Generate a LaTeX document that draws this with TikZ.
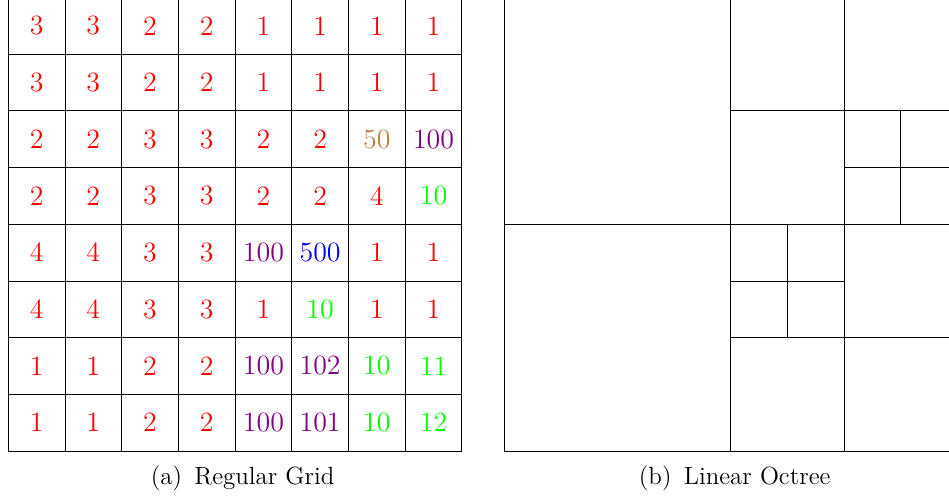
\documentclass[tikz,border=0pt]{standalone}
\usepackage{amsmath}
\usepackage{xcolor}
\usepackage{tikz}

\tikzset{
  num/.style={font=\fontsize{14}{17}\selectfont},
  caption/.style={font=\fontsize{12.5}{15}\selectfont, anchor=base}
}

\begin{document}
\begin{tikzpicture}[scale=1]
\useasboundingbox (-0.146,-0.829) rectangle (16.591,7.954);
% regular grid, 8x8 cells
\draw [thin] (0,0) grid (8,8);
% values, one row at a time (top row first)
\foreach \v/\c [count=\i from 0] in {3/red,3/red,2/red,2/red,1/red,1/red,1/red,1/red}
  \node[num,text=\c] (r0c\i) at (\i+0.5,7.5) {\v};
\foreach \v/\c [count=\i from 0] in {3/red,3/red,2/red,2/red,1/red,1/red,1/red,1/red}
  \node[num,text=\c] (r1c\i) at (\i+0.5,6.5) {\v};
\foreach \v/\c [count=\i from 0] in {2/red,2/red,3/red,3/red,2/red,2/red,50/brown,100/violet}
  \node[num,text=\c] (r2c\i) at (\i+0.5,5.5) {\v};
\foreach \v/\c [count=\i from 0] in {2/red,2/red,3/red,3/red,2/red,2/red,4/red,10/green}
  \node[num,text=\c] (r3c\i) at (\i+0.5,4.5) {\v};
\foreach \v/\c [count=\i from 0] in {4/red,4/red,3/red,3/red,100/violet,500/blue,1/red,1/red}
  \node[num,text=\c] (r4c\i) at (\i+0.5,3.5) {\v};
\foreach \v/\c [count=\i from 0] in {4/red,4/red,3/red,3/red,1/red,10/green,1/red,1/red}
  \node[num,text=\c] (r5c\i) at (\i+0.5,2.5) {\v};
\foreach \v/\c [count=\i from 0] in {1/red,1/red,2/red,2/red,100/violet,102/violet,10/green,11/green}
  \node[num,text=\c] (r6c\i) at (\i+0.5,1.5) {\v};
\foreach \v/\c [count=\i from 0] in {1/red,1/red,2/red,2/red,100/violet,101/violet,10/green,12/green}
  \node[num,text=\c] (r7c\i) at (\i+0.5,0.5) {\v};
\node[caption] (capa) at (4.134,-0.591) {(a)\ \,Regular Grid};

% linear octree
\begin{scope}[xshift=8.742cm]
\draw [thin] (0,0) rectangle (8,8);
\draw [thin] (4,0) -- (4,8);
\draw [thin] (0,4) -- (8,4);
\draw [thin] (6,0) -- (6,8);
\draw [thin] (4,6) -- (8,6);
\draw [thin] (4,2) -- (8,2);
% finer cells
\draw [thin] (7,4) -- (7,6);
\draw [thin] (6,5) -- (8,5);
\draw [thin] (5,2) -- (5,4);
\draw [thin] (4,3) -- (6,3);
\node[caption] (capb) at (4.07,-0.591) {(b)\ \,Linear Octree};
\end{scope}
\end{tikzpicture}
\end{document}
